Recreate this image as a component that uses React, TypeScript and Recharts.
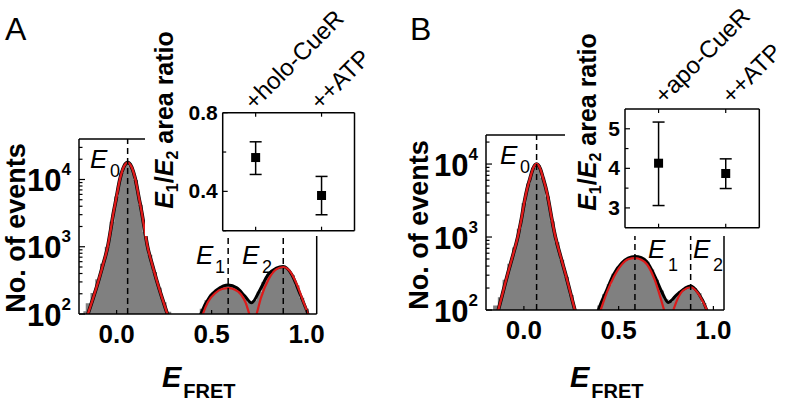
import React from "react";
import {
  Area,
  ComposedChart,
  ErrorBar,
  Line,
  ReferenceLine,
  Scatter,
  XAxis,
  YAxis,
} from "recharts";

const FONT = "'Liberation Sans', Arial, Helvetica, sans-serif";
const RED = "#dd1a1a";
const GRAY = "#808080";

// histogram bin centres (E_FRET)
const binCenters = [
  -0.175, -0.15, -0.125, -0.1, -0.075, -0.05, -0.025, 0, 0.025, 0.05,
  0.075, 0.1, 0.125, 0.15, 0.175, 0.2, 0.225, 0.25, 0.275, 0.3,
  0.325, 0.35, 0.375, 0.4, 0.425, 0.45, 0.475, 0.5, 0.525, 0.55,
  0.575, 0.6, 0.625, 0.65, 0.675, 0.7, 0.725, 0.75, 0.775, 0.8,
  0.825, 0.85, 0.875, 0.9, 0.925, 0.95, 0.975, 1.0, 1.025, 1.05,
];

// counts per bin, panel A (+holo-CueR)
const histA = [
  110, 145, 205, 330, 560, 1000, 2350, 5600, 12600, 17300,
  15800, 9800, 4200, 1650, 760, 420, 245, 150, 108, 80,
  60, 55, 55, 60, 80, 120, 160, 195, 230, 255,
  268, 268, 250, 215, 180, 150, 160, 215, 300, 390,
  450, 495, 505, 465, 380, 265, 175, 120, 90, 60,
];

// counts per bin, panel B (+apo-CueR)
const histB = [
  70, 115, 150, 260, 430, 720, 1300, 2900, 5400, 8900,
  9700, 6500, 3600, 1650, 850, 490, 285, 160, 100, 60,
  50, 50, 60, 115, 165, 225, 315, 390, 455, 510,
  535, 535, 515, 460, 360, 260, 185, 140, 130, 155,
  180, 200, 215, 200, 170, 125, 95, 60, 50, 50,
];

type Pt = [number, number];

// fitted curves, [E_FRET, counts]
const fitE0A: Pt[] = [
  [-0.182, 52], [-0.151, 100], [-0.122, 178], [-0.095, 316], [-0.07, 562],
  [-0.047, 1000], [-0.032, 1740], [-0.017, 3160], [-0.002, 5250], [0.017, 10000],
  [0.038, 15500], [0.058, 17800], [0.078, 15500], [0.099, 10000], [0.118, 5250],
  [0.133, 3160], [0.148, 1740], [0.163, 1000], [0.186, 562], [0.211, 316],
  [0.238, 178], [0.267, 100], [0.298, 52],
];
const fitE1A: Pt[] = [
  [0.44, 75], [0.454, 100], [0.48, 150], [0.52, 205], [0.555, 235], [0.588, 242],
  [0.62, 232], [0.655, 195], [0.68, 145], [0.698, 100], [0.712, 75],
];
const fitE2A: Pt[] = [
  [0.725, 75], [0.737, 100], [0.76, 175], [0.8, 330], [0.84, 460], [0.876, 500],
  [0.91, 440], [0.95, 270], [0.98, 160], [1.007, 100], [1.022, 72],
];
const fitSumA: Pt[] = [
  [0.425, 70], [0.443, 100], [0.49, 180], [0.527, 228], [0.562, 262], [0.588, 271],
  [0.632, 245], [0.675, 185], [0.71, 147], [0.754, 228], [0.797, 383], [0.841, 480],
  [0.876, 508], [0.922, 385], [0.963, 205], [1.007, 100], [1.025, 70],
];

const fitE0B: Pt[] = [
  [-0.163, 52], [-0.135, 100], [-0.11, 178], [-0.085, 316], [-0.058, 562],
  [-0.0325, 1000], [-0.013, 1780], [0.004, 3160], [0.017, 4570], [0.032, 6310],
  [0.047, 8510], [0.067, 10000], [0.087, 8510], [0.102, 6310], [0.117, 4570],
  [0.13, 3160], [0.147, 1780], [0.1665, 1000], [0.192, 562], [0.219, 316],
  [0.244, 178], [0.269, 100], [0.297, 52],
];
const fitE1B: Pt[] = [
  [0.39, 78], [0.405, 100], [0.44, 180], [0.475, 285], [0.515, 415], [0.55, 495],
  [0.586, 514], [0.62, 490], [0.65, 420], [0.69, 260], [0.72, 150], [0.74, 100],
  [0.755, 76],
];
const fitE2B: Pt[] = [
  [0.775, 78], [0.789, 100], [0.81, 140], [0.84, 185], [0.88, 205], [0.915, 175],
  [0.945, 130], [0.965, 100], [0.98, 76],
];
const fitSumB: Pt[] = [
  [0.378, 75], [0.393, 100], [0.437, 188], [0.472, 302], [0.516, 440], [0.55, 515],
  [0.586, 541], [0.62, 520], [0.648, 462], [0.692, 287], [0.727, 179], [0.762, 127],
  [0.806, 161], [0.85, 199], [0.88, 214], [0.921, 170], [0.965, 100], [0.98, 75],
];

// peak centres E0, E1, E2
const peaksA = [0.058, 0.587, 0.877];
const peaksB = [0.067, 0.586, 0.88];

// inset: E1/E2 area ratio
const condsA = ["+holo-CueR", "++ATP"];
const ratioA = [0.572, 0.379];
const lowA = [0.486, 0.281];
const highA = [0.652, 0.476];

const condsB = ["+apo-CueR", "++ATP"];
const ratioB = [4.13, 3.87];
const lowB = [3.06, 3.49];
const highB = [5.17, 4.24];

const rowsOf = (pts: Pt[]) => pts.map(([x, v]) => ({ x, v }));

const frame = { stroke: "#000", strokeWidth: 1.5 };

function HistPanel(p: any) {
  const W = 400;
  const H = 406;
  const L = p.plot.left - p.divLeft;
  const R = p.plot.right - p.divLeft;
  const T = p.plot.top;
  const B = p.plot.bottom;
  const rows = binCenters.map((x, i) => ({ x, v: p.hist[i] }));
  const majors = [100, 1000, 10000];

  const yTick = (props: any) => {
    const v = props.payload.value;
    const y = props.payload.coordinate;
    const major = majors.includes(v);
    return (
      <g>
        <line x1={L} x2={L + (major ? 6 : 3.5)} y1={y} y2={y} stroke="#000" strokeWidth={1.2} />
        {major && (
          <text x={L - 8} y={y + 11.5} textAnchor="end" fontFamily={FONT} fontWeight="bold" fontSize={31}>
            10
            <tspan fontSize={17} dy={-16}>{Math.round(Math.log10(v))}</tspan>
          </text>
        )}
      </g>
    );
  };

  const xTick = (props: any) => {
    const x = props.payload.coordinate;
    return (
      <g>
        <line x1={x} x2={x} y1={B} y2={B - 4} stroke="#000" strokeWidth={1.2} />
        <text x={x} y={B + 29} textAnchor="middle" fontFamily={FONT} fontWeight="bold" fontSize={26}>
          {props.payload.value.toFixed(1)}
        </text>
      </g>
    );
  };

  return (
    <div style={{ position: "absolute", left: p.divLeft, top: 0 }}>
      <ComposedChart width={W} height={H} data={rows} margin={{ top: T - 1, left: L - 1, right: W - R - 1, bottom: H - B - 1 }}>
        <XAxis dataKey="x" type="number" domain={p.xDomain} allowDataOverflow ticks={[0, 0.5, 1]} interval={0} height={1} tickLine={false} axisLine={frame} tick={xTick} />
        <XAxis xAxisId="top" orientation="top" type="number" domain={p.xDomain} allowDataOverflow height={1} tick={false} tickLine={false} axisLine={frame} />
        <YAxis type="number" scale="log" domain={p.yDomain} allowDataOverflow ticks={p.yTicks} interval={0} width={1} tickLine={false} axisLine={frame} tick={yTick} />
        <YAxis yAxisId="right" orientation="right" width={1} tick={false} tickLine={false} axisLine={frame} />
        <Area dataKey="v" type="step" fill={GRAY} fillOpacity={1} stroke="none" baseValue={100} isAnimationActive={false} />
        <Line data={rowsOf(p.e0)} dataKey="v" type="monotone" stroke="#000" strokeWidth={3.6} dot={false} isAnimationActive={false} />
        <Line data={rowsOf(p.sum)} dataKey="v" type="monotone" stroke="#000" strokeWidth={3} dot={false} isAnimationActive={false} />
        <Line data={rowsOf(p.e0)} dataKey="v" type="monotone" stroke={RED} strokeWidth={2.4} dot={false} isAnimationActive={false} />
        <Line data={rowsOf(p.e1)} dataKey="v" type="monotone" stroke={RED} strokeWidth={2.2} dot={false} isAnimationActive={false} />
        <Line data={rowsOf(p.e2)} dataKey="v" type="monotone" stroke={RED} strokeWidth={2.2} dot={false} isAnimationActive={false} />
        {p.peaks.map((c: number, i: number) => (
          <ReferenceLine key={i} x={c} stroke="#000" strokeWidth={1.5} strokeDasharray="6 4" />
        ))}
      </ComposedChart>
    </div>
  );
}

function Square(props: any) {
  return <rect x={props.cx - 4.5} y={props.cy - 4.5} width={9} height={9} fill="#000" />;
}

function RatioInset(p: any) {
  const rows = p.conds.map((c: string, i: number) => ({
    pos: i + 1,
    ratio: p.ratio[i],
    err: [p.ratio[i] - p.low[i], p.high[i] - p.ratio[i]],
  }));
  const bl = p.box.left - p.left;
  const br = p.box.right - p.left;
  const { top, bottom } = p.box;
  const xDomain = [0.5, p.conds.length + 0.5];
  const xTicks = p.conds.map((_: string, i: number) => i + 1);

  const bottomTick = (props: any) => {
    const x = props.payload.coordinate;
    return (
      <g>
        <line x1={x} x2={x} y1={bottom} y2={bottom - 4} stroke="#000" strokeWidth={1.2} />
        <line x1={x} x2={x} y1={top} y2={top + 4} stroke="#000" strokeWidth={1.2} />
      </g>
    );
  };
  const leftTick = (props: any) => {
    const v = props.payload.value;
    const y = props.payload.coordinate;
    const lab = p.yLabels.includes(v);
    return (
      <g>
        <line x1={bl} x2={bl + (lab ? 5 : 3.5)} y1={y} y2={y} stroke="#000" strokeWidth={1.2} />
        {lab && (
          <text x={bl - 5} y={y + 7} textAnchor="end" fontFamily={FONT} fontWeight="bold" fontSize={p.tickFont}>
            {p.fmt(v)}
          </text>
        )}
      </g>
    );
  };

  return (
    <div style={{ position: "absolute", left: p.left, top: 0, width: p.width, height: p.height, background: "#fff" }}>
      <ComposedChart width={p.width} height={p.height} data={rows} margin={{ top: top - 1, left: bl - 1, right: p.width - br - 1, bottom: p.height - bottom - 1 }}>
        <XAxis xAxisId="b" dataKey="pos" type="number" domain={xDomain} ticks={xTicks} interval={0} height={1} tickLine={false} axisLine={frame} tick={bottomTick} />
        <XAxis
          xAxisId="t"
          dataKey="pos"
          type="number"
          domain={xDomain}
          ticks={xTicks}
          interval={0}
          orientation="top"
          height={1}
          tickLine={false}
          tickSize={0}
          tickMargin={-p.catDy}
          angle={-45}
          textAnchor="start"
          axisLine={frame}
          tickFormatter={(v: number) => p.conds[v - 1]}
          tick={{ fill: "#000", fontSize: 24, fontFamily: FONT, dx: p.catDx }}
        />
        <YAxis yAxisId="l" type="number" domain={p.yDomain} allowDataOverflow ticks={p.yTicks} interval={0} width={1} tickLine={false} axisLine={frame} tick={leftTick} />
        <YAxis yAxisId="r" orientation="right" width={1} tick={false} tickLine={false} axisLine={frame} />
        <Scatter xAxisId="b" yAxisId="l" dataKey="ratio" shape={Square} isAnimationActive={false}>
          <ErrorBar dataKey="err" direction="y" width={6} stroke="#000" strokeWidth={1.5} />
        </Scatter>
      </ComposedChart>
    </div>
  );
}

function ELabel({ x, y, sub, subDx, subDy }: any) {
  return (
    <g fontFamily={FONT}>
      <text x={x} y={y} fontSize={26} fontStyle="italic">E</text>
      <text x={x + subDx} y={y + subDy} fontSize={18}>{sub}</text>
    </g>
  );
}

function RatioTitle({ x, y }: any) {
  return (
    <text transform={`translate(${x},${y}) rotate(-90)`} textAnchor="middle" fontFamily={FONT} fontWeight="bold" fontSize={25}>
      <tspan fontStyle="italic">E</tspan>
      <tspan fontSize={16} dy={5}>1</tspan>
      <tspan dy={-5}>/</tspan>
      <tspan fontStyle="italic">E</tspan>
      <tspan fontSize={16} dy={5}>2</tspan>
      <tspan dy={-5}> area ratio</tspan>
    </text>
  );
}

function XTitle({ x, y }: any) {
  return (
    <text x={x} y={y} fontFamily={FONT} fontWeight="bold">
      <tspan fontSize={29} fontStyle="italic">E</tspan>
      <tspan fontSize={20} dx={2} dy={11}>FRET</tspan>
    </text>
  );
}

export default function App() {
  return (
    <div style={{ position: "absolute", left: 0, top: 0, width: 796, height: 406, background: "#fff", overflow: "hidden" }}>
      <HistPanel
        divLeft={0}
        plot={{ left: 79, right: 316.7, top: 139, bottom: 314 }}
        xDomain={[-0.198, 1.053]}
        yDomain={[100, 40000]}
        yTicks={[100, 200, 300, 400, 500, 600, 700, 800, 900, 1000, 2000, 3000, 4000, 5000, 6000, 7000, 8000, 9000, 10000, 20000, 30000]}
        hist={histA}
        e0={fitE0A}
        e1={fitE1A}
        e2={fitE2A}
        sum={fitSumA}
        peaks={peaksA}
      />
      <HistPanel
        divLeft={400}
        plot={{ left: 486, right: 724, top: 135, bottom: 310 }}
        xDomain={[-0.2, 1.056]}
        yDomain={[100, 25000]}
        yTicks={[100, 200, 300, 400, 500, 600, 700, 800, 900, 1000, 2000, 3000, 4000, 5000, 6000, 7000, 8000, 9000, 10000, 20000]}
        hist={histB}
        e0={fitE0B}
        e1={fitE1B}
        e2={fitE2B}
        sum={fitSumB}
        peaks={peaksB}
      />
      <RatioInset
        left={145}
        width={235}
        height={236}
        box={{ left: 222.7, right: 354.5, top: 112.7, bottom: 230.7 }}
        conds={condsA}
        ratio={ratioA}
        low={lowA}
        high={highA}
        yDomain={[0.2, 0.8]}
        yTicks={[0.2, 0.4, 0.6, 0.8]}
        yLabels={[0.4, 0.8]}
        fmt={(v: number) => v.toFixed(1)}
        tickFont={21}
        catDx={-1.4}
        catDy={-1.7}
      />
      <RatioInset
        left={565}
        width={231}
        height={236}
        box={{ left: 625, right: 759.3, top: 109, bottom: 227.7 }}
        conds={condsB}
        ratio={ratioB}
        low={lowB}
        high={highB}
        yDomain={[2.5, 5.5]}
        yTicks={[3, 3.5, 4, 4.5, 5]}
        yLabels={[3, 4, 5]}
        fmt={(v: number) => String(v)}
        tickFont={21}
        catDx={5.7}
        catDy={-4}
      />
      <svg width={796} height={406} style={{ position: "absolute", left: 0, top: 0, pointerEvents: "none" }}>
        <text x={5} y={40} fontFamily={FONT} fontSize={32}>A</text>
        <text x={410} y={40} fontFamily={FONT} fontSize={32}>B</text>
        <text transform="translate(25,228) rotate(-90)" textAnchor="middle" fontFamily={FONT} fontWeight="bold" fontSize={27}>No. of events</text>
        <text transform="translate(428,225) rotate(-90)" textAnchor="middle" fontFamily={FONT} fontWeight="bold" fontSize={27}>No. of events</text>
        <XTitle x={162} y={387} />
        <XTitle x={570} y={387} />
        <RatioTitle x={173} y={120} />
        <RatioTitle x={596} y={122} />
        <ELabel x={90} y={168} sub="0" subDx={20} subDy={9} />
        <ELabel x={196} y={264} sub="1" subDx={19} subDy={9} />
        <ELabel x={242} y={264} sub="2" subDx={20} subDy={9} />
        <ELabel x={500} y={164} sub="0" subDx={20} subDy={9} />
        <ELabel x={648} y={258} sub="1" subDx={20} subDy={13} />
        <ELabel x={693} y={258} sub="2" subDx={20} subDy={13} />
      </svg>
    </div>
  );
}
